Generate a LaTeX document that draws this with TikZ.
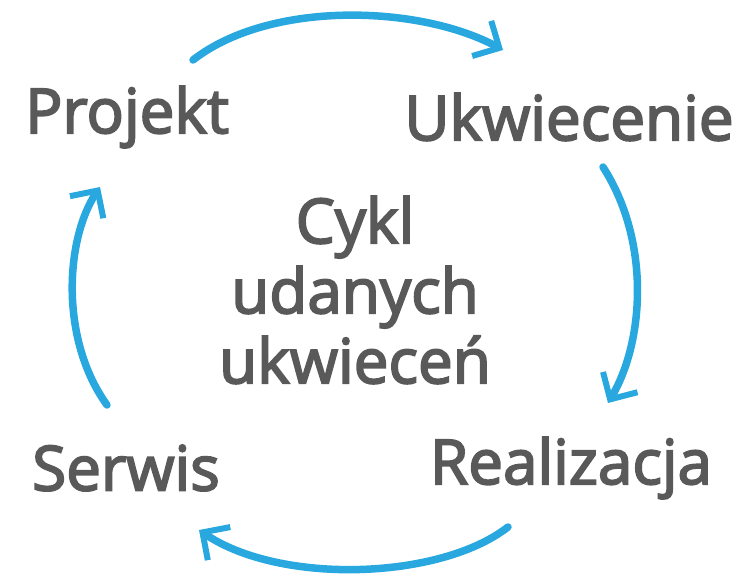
\documentclass[tikz,border=0pt]{standalone}
\usepackage{fontspec}
\setmainfont{Open Sans}
\newfontfamily\stagefont{Open Sans}[FakeBold=3]
\usetikzlibrary{arrows.meta}
\definecolor{cycblue}{HTML}{29A8E0}
\definecolor{cycgray}{HTML}{595959}
\tikzset{
  stage/.style={text=cycgray, font=\fontsize{62}{70}\stagefont, inner sep=0pt},
  loop/.style={draw=cycblue, line width=7.5pt, line cap=round, line join=round,
    -{Straight Barb[length=20pt, width=40pt, line width=6pt]}},
}
\begin{document}
\begin{tikzpicture}[x=1pt, y=-1pt]
\useasboundingbox (0,0) rectangle (737,576);
\node[stage] (P) at (127,117) {Projekt};
\node[stage] (U) at (569,117) {Ukwiecenie};
\node[stage] (R) at (571,468) {Realizacja};
\node[stage] (S) at (126,468) {Serwis};
\node[stage, align=center] (C) at (355,290) {Cykl\\udanych\\ukwieceń};
\coordinate (p1) at (193,60);
\coordinate (u1) at (503,50);
\coordinate (u2) at (603,167);
\coordinate (r1) at (608,403);
\coordinate (r2) at (508,527);
\coordinate (s1) at (199,530);
\coordinate (s2) at (107,405);
\coordinate (p2) at (100,187);
\draw[loop] (p1) .. controls (270,0) and (420,5) .. (u1);
\draw[loop] (u2) .. controls (650,240) and (645,340) .. (r1);
\draw[loop] (r2) .. controls (440,580) and (280,585) .. (s1);
\draw[loop] (s2) .. controls (60,340) and (65,240) .. (p2);
\end{tikzpicture}
\end{document}
